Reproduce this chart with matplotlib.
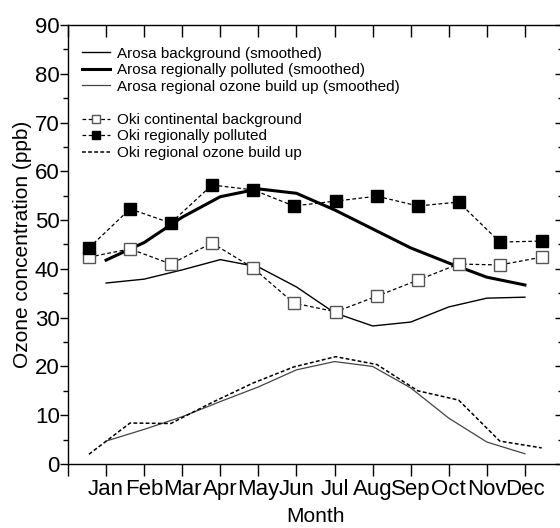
import numpy as np
import matplotlib
matplotlib.use("Agg")
import matplotlib.pyplot as plt
from matplotlib.ticker import MultipleLocator

plt.rcParams['font.family'] = ['Liberation Sans', 'DejaVu Sans']

months = ['Jan', 'Feb', 'Mar', 'Apr', 'May', 'Jun', 'Jul', 'Aug', 'Sep', 'Oct', 'Nov', 'Dec']
monthPos = [1, 2, 3, 4, 5, 6, 7, 8, 9, 10, 11, 12]

# Arosa (smoothed monthly curves)
arosaBackground = [37.1, 37.9, 39.8, 41.9, 40.4, 36.3, 31.0, 28.3, 29.1, 32.2, 34.0, 34.2]
arosaPolluted   = [41.8, 45.4, 50.6, 54.8, 56.4, 55.5, 52.1, 48.2, 44.3, 41.2, 38.3, 36.7]
arosaBuildUp    = [4.7, 7.1, 9.7, 12.8, 15.8, 19.3, 21.0, 20.0, 15.6, 9.4, 4.5, 2.1]

# Oki (points sit on a slightly wider spacing than the month ticks)
okiPos        = [0.55, 1.63, 2.70, 3.78, 4.86, 5.93, 7.03, 8.11, 9.19, 10.26, 11.34, 12.44]
okiBackground = [42.4, 44.1, 41.0, 45.3, 40.2, 33.0, 31.2, 34.4, 37.7, 41.0, 40.8, 42.4]
okiPolluted   = [44.3, 52.3, 49.4, 57.2, 56.2, 52.9, 53.9, 54.9, 52.9, 53.7, 45.5, 45.7]
okiBuildUp    = [2.0, 8.4, 8.3, 12.6, 16.6, 19.9, 22.0, 20.4, 15.0, 13.1, 4.7, 3.3]

fig = plt.figure(figsize=(5.6, 5.28), dpi=100)
ax = fig.add_axes([68/560, 64/528, 495/560, 439/528])

dash = (0, (3, 2))
ax.plot(monthPos, arosaBackground, color='black', lw=1.0, label='Arosa background (smoothed)')
ax.plot(monthPos, arosaPolluted, color='black', lw=2.2, label='Arosa regionally polluted (smoothed)')
ax.plot(monthPos, arosaBuildUp, color='#444444', lw=0.9, label='Arosa regional ozone build up (smoothed)')
ax.plot([], [], color='none', label=' ')
ax.plot(okiPos, okiBackground, color='black', lw=0.9, ls=dash, marker='s', ms=9,
        mfc='white', mec='#555555', mew=1.0, label='Oki continental background')
ax.plot(okiPos, okiPolluted, color='black', lw=0.9, ls=dash, marker='s', ms=9,
        mfc='black', mec='black', label='Oki regionally polluted')
ax.plot(okiPos, okiBuildUp, color='black', lw=1.1, ls=(0, (2.5, 1.5)), label='Oki regional ozone build up')

ax.set_xlim(0, 13)
ax.set_ylim(0, 90)
ax.set_xticks(range(0, 14))
ax.set_xticklabels([''] + months + [''])
ax.yaxis.set_major_locator(MultipleLocator(10))
ax.yaxis.set_minor_locator(MultipleLocator(5))

ax.tick_params(axis='both', which='both', labelsize=16, width=1.0)
ax.tick_params(axis='x', which='major', top=True, direction='out', length=8.5, pad=2)
ax.tick_params(axis='y', which='major', right=True, direction='out', length=6, pad=0)
ax.tick_params(axis='y', which='minor', right=True, direction='out', length=3.5)
for t in ax.xaxis.get_major_ticks():
    t.tick2line.set_marker(3)  # top ticks point down, into the plot
for t in ax.yaxis.get_major_ticks() + ax.yaxis.get_minor_ticks():
    t.tick2line.set_marker(0)  # right side ticks point inward
for s in ax.spines.values():
    s.set_linewidth(1.0)

ax.set_xlabel('Month', fontsize=15, labelpad=5)
ax.set_ylabel('Ozone concentration (ppb)', fontsize=15, labelpad=2)

ax.legend(loc='upper left', bbox_to_anchor=(0.028, 0.951), frameon=False, fontsize=11,
          borderaxespad=0, borderpad=0, labelspacing=0.17, handlelength=1.85,
          handletextpad=0.45, markerscale=0.6)

fig.savefig('out.png', dpi=100)
